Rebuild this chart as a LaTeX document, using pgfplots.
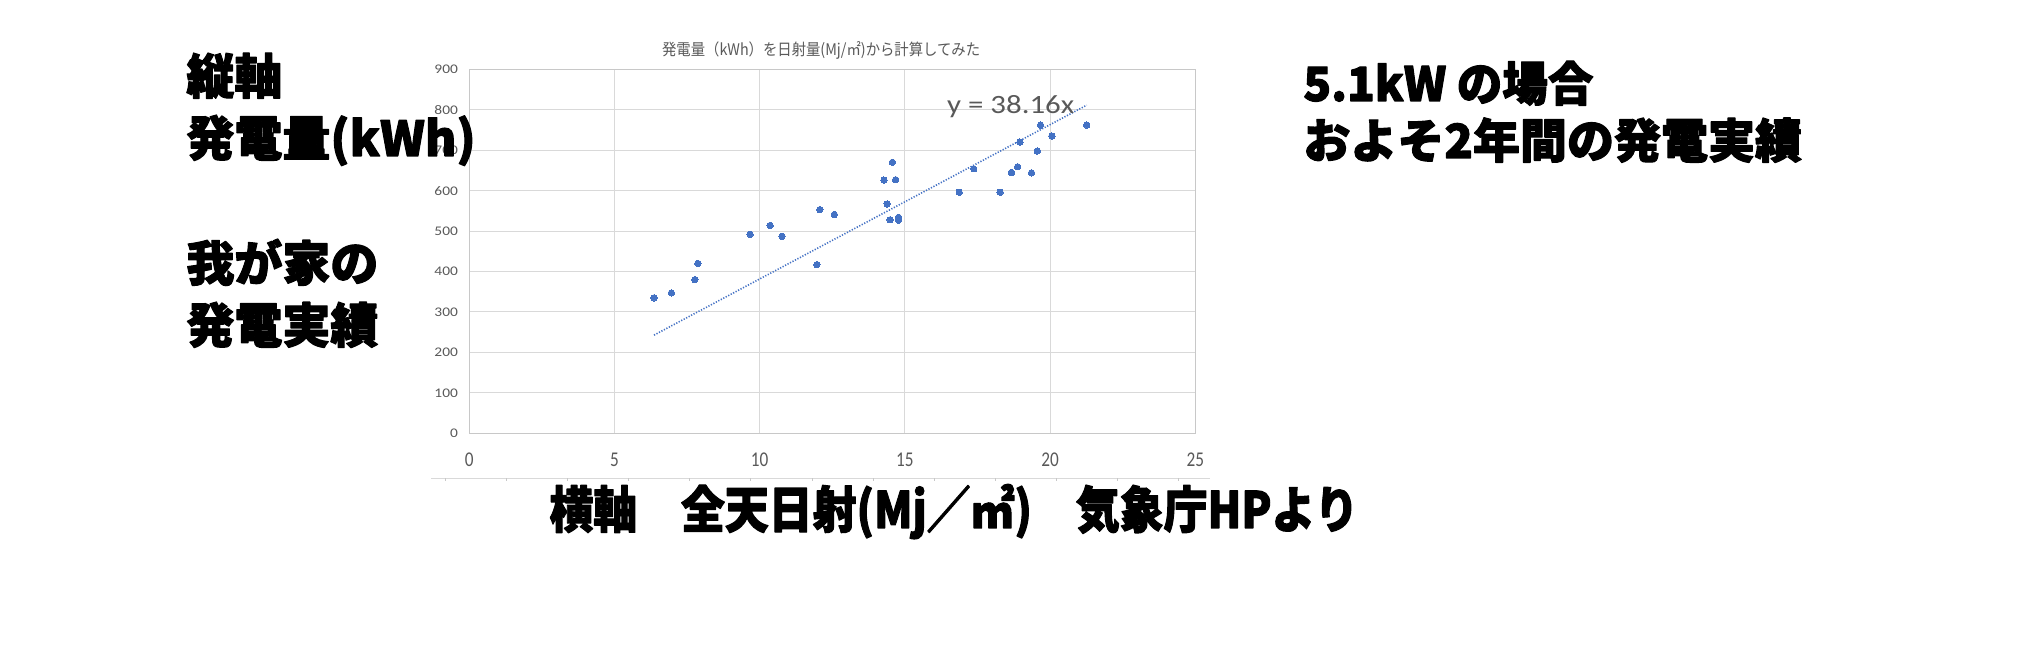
\documentclass[border=0pt]{standalone}
\usepackage{fontspec}
\setmainfont{Carlito}
\newfontfamily\cjk{Noto Sans CJK JP}
\IfFontExistsTF{Noto Sans CJK JP Black}{\newfontfamily\popfont{Noto Sans CJK JP Black}}{\IfFontExistsTF{Noto Sans CJK JP Bold}{\newfontfamily\popfont{Noto Sans CJK JP Bold}}{\newfontfamily\popfont{Noto Sans CJK JP}}}
\newcommand\heavy[1]{\special{pdf:literal direct 2 Tr 0.55 w 1 j}#1\special{pdf:literal direct 0 Tr}}
\usepackage{graphicx}
\usepackage{pgfplots}
\pgfplotsset{compat=1.18}
\definecolor{excelblue}{HTML}{4472C4}
\definecolor{tickc}{HTML}{595959}
\definecolor{gridc}{HTML}{D9D9D9}
\definecolor{axisc}{HTML}{C8C8C8}
\begin{document}
\begin{tikzpicture}[x=1pt,y=1pt]
\useasboundingbox (0,0) rectangle (1015,336);
\begin{axis}[
  at={(234.65pt,119.35pt)}, anchor=south west,
  width=363pt, height=182pt, scale only axis,
  xmin=0, xmax=25, ymin=0, ymax=900,
  xtick={0,5,...,25}, ytick={0,100,...,900},
  grid=major, major grid style={draw=gridc, line width=0.5pt},
  axis line style={draw=axisc, line width=0.6pt},
  major tick length=0pt,
  /pgf/number format/assume math mode=true,
  xticklabel style={font=\fontsize{10.5}{12}\selectfont, text=tickc, anchor=base, yshift=-16.7pt, inner sep=0pt},
  xticklabel={\scalebox{0.82}[1]{\pgfmathprintnumber{\tick}}},
  yticklabel style={font=\fontsize{6.6}{8}\selectfont, text=tickc, anchor=east, inner sep=0pt, xshift=-5.5pt},
  yticklabel={\scalebox{1.17}[1]{\pgfmathprintnumber{\tick}}},
  clip=false,
]
\addplot[color=excelblue, line width=0.8pt, dash pattern=on 0.6pt off 0.8pt] coordinates {(6.36,242.7) (21.26,811.3)};
\addplot[color=excelblue, only marks, mark=*, mark size=1.6pt, mark options={draw=excelblue, fill=excelblue, line width=0pt}] coordinates {
(6.36,335) (6.96,347) (7.77,380) (7.87,420) (9.67,492) (10.36,514) (10.77,487)
(11.97,417) (12.07,553) (12.57,541) (14.28,626) (14.39,567) (14.49,528) (14.57,670)
(14.68,627) (14.78,534) (14.78,527) (16.87,596) (17.37,654) (18.28,596) (18.67,645)
(18.88,659) (18.96,720) (19.36,644) (19.56,698) (19.67,762) (20.06,735) (21.26,762)
};
\end{axis}
% title and trendline equation
\node[anchor=base west, inner sep=0pt, text=tickc, font=\cjk\fontsize{8}{9}\selectfont] at (330.85,308) {\resizebox{159pt}{\height}{発電量（kWh）を日射量(Mj/㎡)から計算してみた}};
\node[anchor=base west, inner sep=0pt, text=tickc, font=\fontsize{13.2}{15}\selectfont] at (473.35,279.35) {\scalebox{1.17}[1]{y = 38.16x}};
% stray line below the chart
\draw[gridc, line width=0.5pt] (215.5,96.85) -- (605,96.85);
\foreach \k in {0,...,12} \draw[axisc, line width=0.4pt] (222.65+30.55*\k,96.85) -- ++(0,-1.5);
% annotations
\begin{scope}[every node/.style={anchor=base west, inner sep=0pt, text=black}]
\node[font=\popfont\fontsize{24}{28}\selectfont] at (93,289) {\heavy{縦軸}};
\node[font=\popfont\fontsize{24}{28}\selectfont] at (93,258) {\heavy{発電量(kWh)}};
\node[font=\popfont\fontsize{24}{28}\selectfont] at (93,195.5) {\heavy{我が家の}};
\node[font=\popfont\fontsize{24}{28}\selectfont] at (93,164.5) {\heavy{発電実績}};
\node[font=\popfont\fontsize{23.5}{28}\selectfont] at (651.5,285.5) {\resizebox{145pt}{\height}{\heavy{5.1kW の場合}}};
\node[font=\popfont\fontsize{23.5}{28}\selectfont] at (651.5,257) {\heavy{およそ2年間の発電実績}};
\node[font=\popfont\fontsize{25}{30}\selectfont] at (274.5,72) {\resizebox{404.5pt}{\height}{\heavy{横軸　全天日射(Mj／㎡)　気象庁HPより}}};
\end{scope}
\end{tikzpicture}
\end{document}
